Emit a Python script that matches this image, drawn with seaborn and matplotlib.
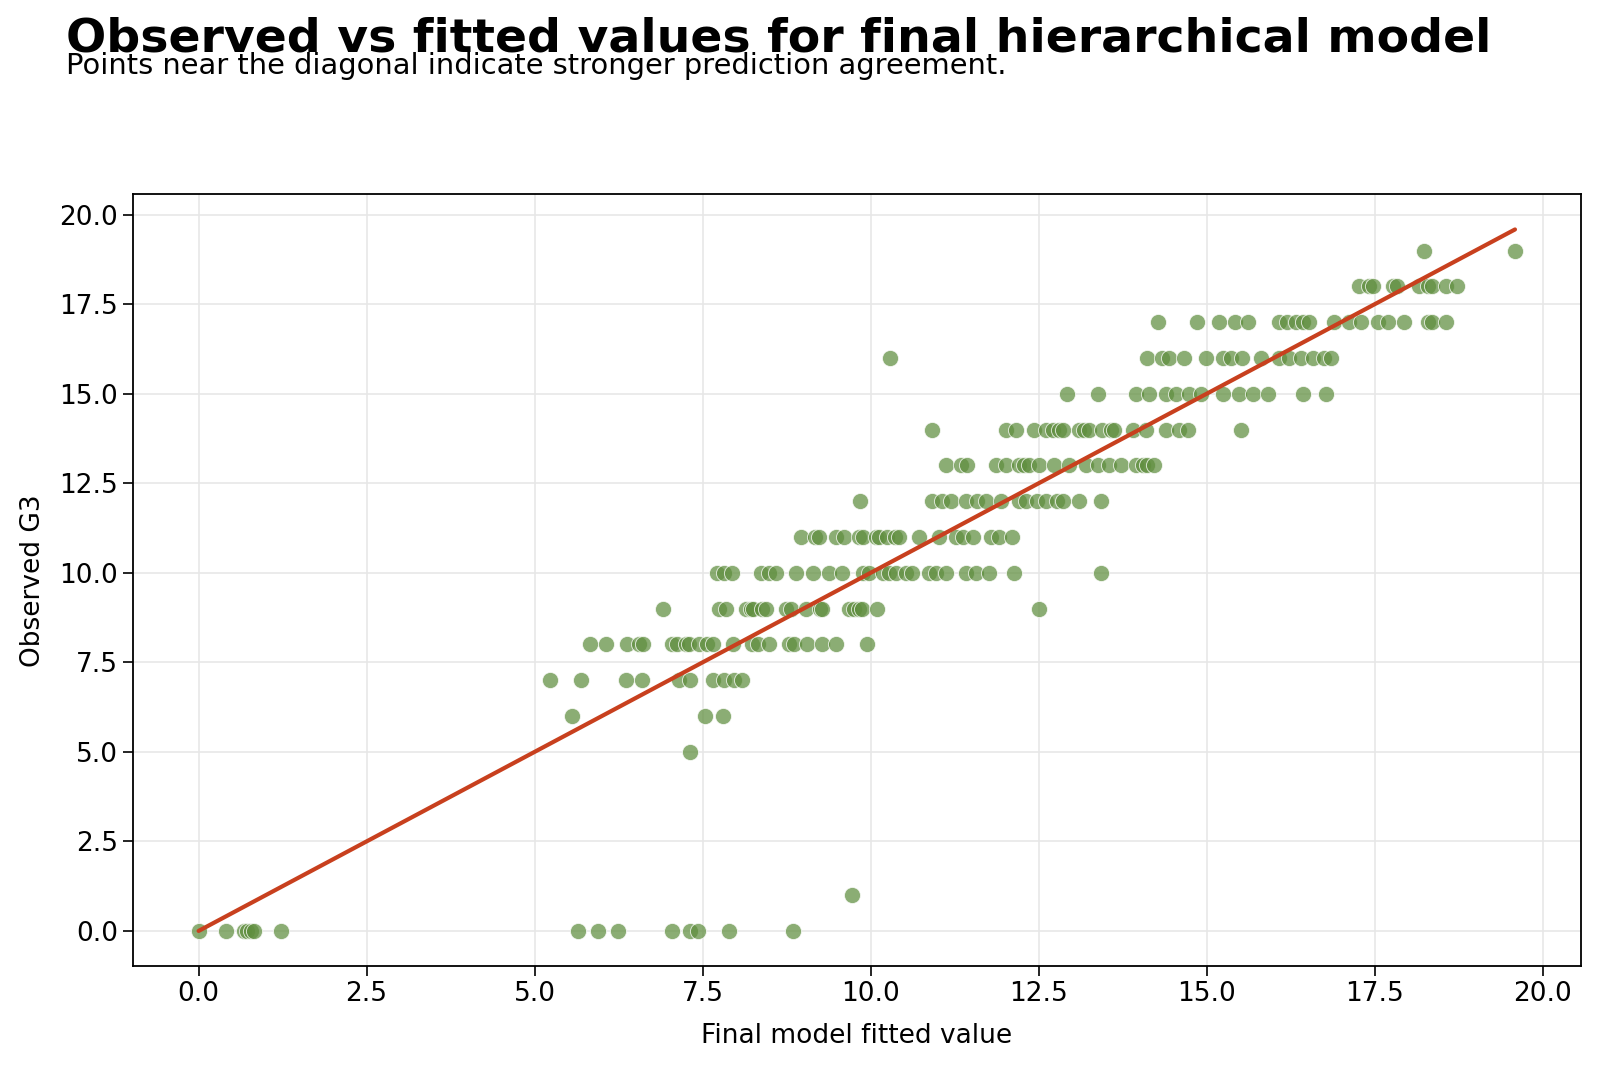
# Observed vs fitted scatter for the final hierarchical model
import numpy as np
import pandas as pd
from matplotlib import pyplot as plt
import seaborn as sns

# fitted values, one list per observed G3 grade
fitted_g0 = [0.0, 0.41, 0.68, 0.72, 0.78, 0.83, 1.23, 5.65, 5.94, 6.24, 7.05, 7.32, 7.43, 7.89, 8.85]
fitted_g1 = [9.73]
fitted_g5 = [7.31]
fitted_g6 = [5.56, 7.54, 7.81]
fitted_g7 = [5.23, 5.69, 6.36, 6.60, 7.15, 7.31, 7.65, 7.82, 7.97, 8.09]
fitted_g8 = [5.82, 6.06, 6.38, 6.56, 6.62, 7.05, 7.12, 7.25, 7.30, 7.45, 7.57, 7.65, 7.95,
             8.24, 8.32, 8.49, 8.79, 8.86, 9.06, 9.28, 9.48, 9.95]
fitted_g9 = [6.91, 7.74, 7.85, 8.14, 8.22, 8.25, 8.39, 8.44, 8.74, 8.81, 9.04, 9.24, 9.28,
             9.68, 9.76, 9.83, 9.87, 10.10, 12.51]
fitted_g10 = [7.72, 7.82, 7.94, 8.37, 8.49, 8.59, 8.89, 9.14, 9.38, 9.58, 9.88, 9.98, 10.18,
              10.28, 10.38, 10.53, 10.62, 10.87, 10.97, 11.12, 11.42, 11.57, 11.76, 12.14, 13.43]
fitted_g11 = [8.96, 9.18, 9.23, 9.48, 9.60, 9.83, 9.88, 10.08, 10.13, 10.25, 10.37, 10.43,
              10.72, 11.02, 11.27, 11.37, 11.52, 11.79, 11.91, 12.11]
fitted_g12 = [9.84, 10.92, 11.07, 11.19, 11.42, 11.59, 11.72, 11.94, 12.21, 12.31, 12.48,
              12.61, 12.78, 12.86, 13.10, 13.43]
fitted_g13 = [11.12, 11.34, 11.44, 11.86, 12.01, 12.21, 12.29, 12.36, 12.51, 12.73, 12.96,
              13.20, 13.38, 13.55, 13.72, 13.95, 14.05, 14.12, 14.22]
fitted_g14 = [10.91, 12.01, 12.16, 12.43, 12.61, 12.71, 12.81, 12.86, 13.10, 13.18, 13.25,
              13.45, 13.58, 13.63, 13.90, 14.10, 14.39, 14.59, 14.72, 15.51]
fitted_g15 = [12.93, 13.38, 13.95, 14.15, 14.39, 14.54, 14.74, 14.91, 15.24, 15.49, 15.69,
              15.91, 16.43, 16.78]
fitted_g16 = [10.29, 14.12, 14.34, 14.44, 14.67, 14.99, 15.24, 15.36, 15.53, 15.81, 16.08,
              16.23, 16.40, 16.58, 16.75, 16.85]
fitted_g17 = [14.28, 14.86, 15.19, 15.43, 15.61, 16.08, 16.20, 16.33, 16.43, 16.53, 16.90,
              17.12, 17.30, 17.55, 17.70, 17.94, 18.29, 18.36, 18.56]
fitted_g18 = [17.27, 17.42, 17.47, 17.77, 17.84, 18.16, 18.29, 18.36, 18.56, 18.73]
fitted_g19 = [18.23, 19.59]

rows = {0: fitted_g0, 1: fitted_g1, 5: fitted_g5, 6: fitted_g6, 7: fitted_g7, 8: fitted_g8,
        9: fitted_g9, 10: fitted_g10, 11: fitted_g11, 12: fitted_g12, 13: fitted_g13,
        14: fitted_g14, 15: fitted_g15, 16: fitted_g16, 17: fitted_g17, 18: fitted_g18,
        19: fitted_g19}

df = pd.DataFrame(
    [(f, g) for g, vals in rows.items() for f in vals],
    columns=['fitted', 'G3']
)

sns.set_style('white')
plt.rcParams['font.family'] = ['DejaVu Sans']
plt.rcParams['text.color'] = 'black'
plt.rcParams['axes.labelcolor'] = 'black'
plt.rcParams['xtick.color'] = 'black'
plt.rcParams['ytick.color'] = 'black'

fig = plt.figure(figsize=(16, 10.68), dpi=100)
ax = fig.add_axes([0.083, 0.0955, 0.905, 0.7225])

sns.scatterplot(
    data=df, x='fitted', y='G3', ax=ax,
    color='#5f8e3e', alpha=0.72, s=135,
    edgecolor='white', linewidth=0.7, zorder=2
)

# reference diagonal y = x over the fitted range
lo, hi = df['fitted'].min(), df['fitted'].max()
ax.plot([lo, hi], [lo, hi], color='#c8401e', lw=3.0, zorder=3)

ax.grid(True, color='#e6e6e6', lw=1.1, zorder=0)
ax.set_axisbelow(True)
for sp in ax.spines.values():
    sp.set_color('black')
    sp.set_linewidth(1.3)
ax.tick_params(axis='both', labelsize=19, length=7, width=1.2, color='black', left=True, bottom=True)
ax.set_xlabel('Final model fitted value', fontsize=19, labelpad=12)
ax.set_ylabel('Observed G3', fontsize=19, labelpad=10)

fig.text(0.041, 0.985, 'Observed vs fitted values for final hierarchical model',
         fontsize=34.1, fontweight='bold', va='top', ha='left')
fig.text(0.041, 0.951, 'Points near the diagonal indicate stronger prediction agreement.',
         fontsize=20.8, va='top', ha='left')

fig.savefig('out.png', dpi=100)
